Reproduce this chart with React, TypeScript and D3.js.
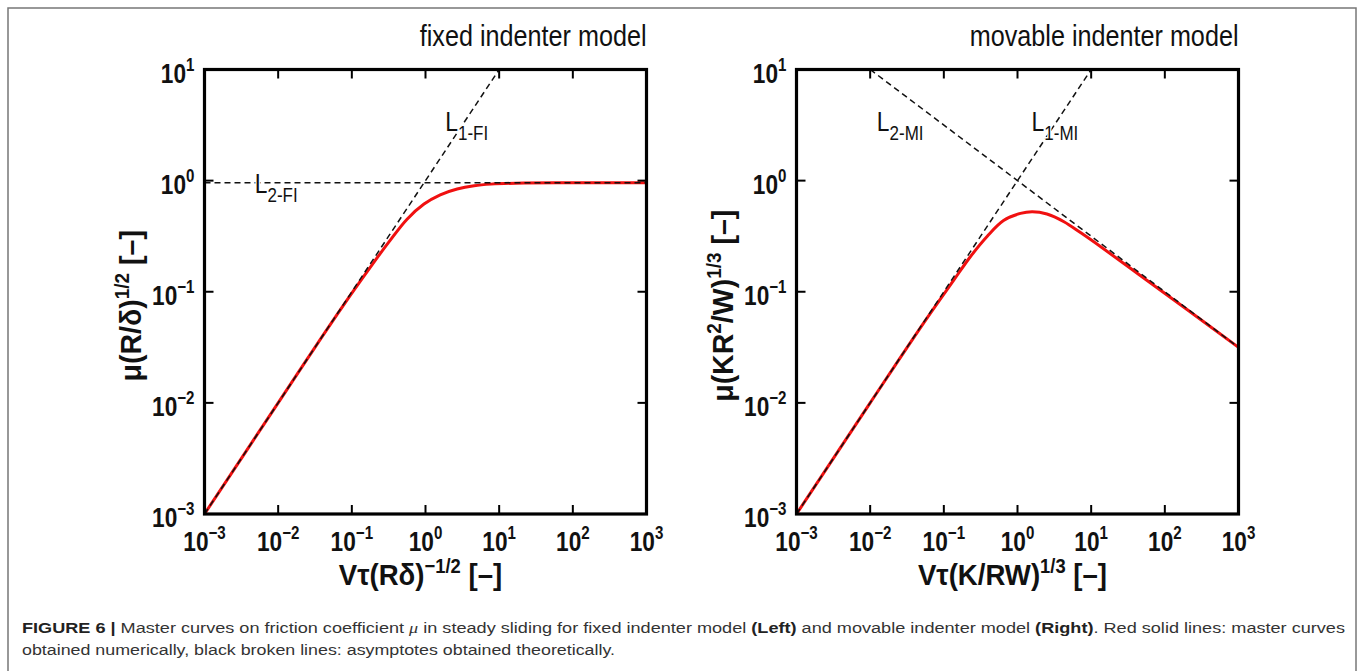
import React from 'react';
import * as d3 from 'd3';

type Pt = [number, number];

// asymptotes and master curves
const fixedRed: Pt[] = [
  [0.001, 0.001], [0.01, 0.01], [0.0316, 0.0316], [0.1, 0.097], [0.2, 0.185],
  [0.331, 0.29], [0.562, 0.45], [0.955, 0.615], [1.585, 0.745], [2.69, 0.84],
  [4.57, 0.9], [7.76, 0.93], [21.9, 0.952], [100, 0.956], [1000, 0.957],
];
const fixedL1: Pt[] = [[0.001, 0.001], [10, 10]];
const fixedL2: Pt[] = [[0.001, 0.957], [1000, 0.957]];

const movableRed: Pt[] = [
  [0.001, 0.001], [0.01, 0.01], [0.056, 0.055], [0.135, 0.126], [0.229, 0.2065],
  [0.389, 0.316], [0.646, 0.437], [1.096, 0.507], [1.585, 0.525], [2.51, 0.501],
  [4.27, 0.427], [7.24, 0.339], [13.5, 0.254], [47.9, 0.138], [200, 0.0692], [1000, 0.0316],
];
const movableL1: Pt[] = [[0.001, 0.001], [10, 10]];
const movableL2: Pt[] = [[0.01, 10], [1000, 0.0316]];

const xTicks = [0.001, 0.01, 0.1, 1, 10, 100, 1000];
const xTickExp = ['−3', '−2', '−1', '0', '1', '2', '3'];
const yTicks = [0.001, 0.01, 0.1, 1, 10];
const yTickExp = ['−3', '−2', '−1', '0', '1'];

const W = 1362;
const H = 671;
const top = 69.5;
const bottom = 514;
const SANS = '"Liberation Sans", Arial, sans-serif';

// narrow text: no condensed face is installed, so squeeze horizontally
const Cond: React.FC<{ x: number; y: number; s: number; rotate?: number; children: React.ReactNode } & React.SVGProps<SVGTextElement>> =
  ({ x, y, s, rotate, children, ...rest }) => (
    <g transform={`translate(${x},${y})${rotate ? ` rotate(${rotate})` : ''} scale(${s},1)`}>
      <text x={0} y={0} fontFamily={SANS} fill="#111" {...rest}>{children}</text>
    </g>
  );

interface Lbl { text: string; sub: string; x: number; y: number }
interface PanelProps {
  left: number;
  title: string;
  red: Pt[];
  dashed: Pt[][];
  labels: Lbl[];
  xTitle: [string, string, string];
  yTitle: React.ReactNode;
}

const Panel: React.FC<PanelProps> = ({ left, title, red, dashed, labels, xTitle, yTitle }) => {
  const right = left + 442;
  const x = d3.scaleLog().domain([0.001, 1000]).range([left, right]);
  const y = d3.scaleLog().domain([0.001, 10]).range([bottom, top]);
  const line = d3.line<Pt>().x(d => x(d[0])).y(d => y(d[1])).curve(d3.curveCatmullRom.alpha(0.5));
  const tl = 9;
  return (
    <g>
      <Cond x={right} y={46} s={0.84} textAnchor="end" fontSize="30">{title}</Cond>

      <path d={line(red) || ''} fill="none" stroke="#f01010" strokeWidth="3" />
      {dashed.map((d, i) => (
        <path key={i} d={line(d) || ''} fill="none" stroke="#111" strokeWidth="1.5" strokeDasharray="6 4" />
      ))}

      {labels.map((l, i) => (
        <Cond key={i} x={x(l.x)} y={y(l.y)} s={0.85} fontSize="27" stroke="#fff" strokeWidth="3" paintOrder="stroke">
          {l.text}<tspan fontSize="20" dy="9">{l.sub}</tspan>
        </Cond>
      ))}

      {xTicks.slice(1, -1).map(t => (
        <g key={'xt' + t}>
          <line x1={x(t)} x2={x(t)} y1={bottom} y2={bottom - tl} stroke="#000" strokeWidth="2" />
          <line x1={x(t)} x2={x(t)} y1={top} y2={top + tl} stroke="#000" strokeWidth="2" />
        </g>
      ))}
      {yTicks.slice(1, -1).map(t => (
        <g key={'yt' + t}>
          <line x1={left} x2={left + tl} y1={y(t)} y2={y(t)} stroke="#000" strokeWidth="2" />
          <line x1={right} x2={right - tl} y1={y(t)} y2={y(t)} stroke="#000" strokeWidth="2" />
        </g>
      ))}
      <rect x={left} y={top} width={right - left} height={bottom - top} fill="none" stroke="#000" strokeWidth="3.2" />

      {xTicks.map((t, i) => (
        <Cond key={'xl' + t} x={x(t)} y={551} s={0.84} textAnchor="middle" fontWeight="bold" fontSize="27">
          10<tspan fontSize="18" dy="-12">{xTickExp[i]}</tspan>
        </Cond>
      ))}
      {yTicks.map((t, i) => (
        <Cond key={'yl' + t} x={left - 10} y={y(t) + 13} s={0.84} textAnchor="end" fontWeight="bold" fontSize="27">
          10<tspan fontSize="18" dy="-12">{yTickExp[i]}</tspan>
        </Cond>
      ))}

      <Cond x={(left + right) / 2 - 5} y={585} s={0.92} textAnchor="middle" fontWeight="bold" fontSize="30">
        {xTitle[0]}<tspan fontSize="20" dy="-12">{xTitle[1]}</tspan><tspan dy="12">{xTitle[2]}</tspan>
      </Cond>
      <Cond x={left - 64} y={(top + bottom) / 2 + 14} s={0.95} rotate={-90} textAnchor="middle" fontWeight="bold" fontSize="30">
        {yTitle}
      </Cond>
    </g>
  );
};

const App: React.FC = () => (
  <div style={{ position: 'fixed', left: 0, top: 0 }}>
    <svg width={W} height={H} style={{ display: 'block', background: '#fff' }}>
      <rect x={8} y={8} width={1348} height={H + 10} fill="none" stroke="#777" strokeWidth="1.5" />
      <Panel
        left={204.5}
        title="fixed indenter model"
        red={fixedRed}
        dashed={[fixedL1, fixedL2]}
        labels={[
          { text: 'L', sub: '1-FI', x: 1.85, y: 2.8 },
          { text: 'L', sub: '2-FI', x: 0.0048, y: 0.77 },
        ]}
        xTitle={['Vτ(Rδ)', '−1/2', ' [–]']}
        yTitle={<>μ(R/δ)<tspan fontSize="20" dy="-12">1/2</tspan><tspan dy="12"> [–]</tspan></>}
      />
      <Panel
        left={796.5}
        title="movable indenter model"
        red={movableRed}
        dashed={[movableL1, movableL2]}
        labels={[
          { text: 'L', sub: '2-MI', x: 0.0123, y: 2.8 },
          { text: 'L', sub: '1-MI', x: 1.55, y: 2.8 },
        ]}
        xTitle={['Vτ(K/RW)', '1/3', ' [–]']}
        yTitle={<>μ(KR<tspan fontSize="20" dy="-12">2</tspan><tspan dy="12">/W)</tspan><tspan fontSize="20" dy="-12">1/3</tspan><tspan dy="12"> [–]</tspan></>}
      />
      <text x={22} y={633} fontFamily={SANS} fontSize="15.5" fill="#333" textLength={1323} lengthAdjust="spacingAndGlyphs">
        <tspan fontWeight="bold" fill="#222">FIGURE 6 | </tspan>Master curves on friction coefficient <tspan fontStyle="italic" fontFamily="serif">μ</tspan> in steady sliding for fixed indenter model <tspan fontWeight="bold" fill="#222">(Left)</tspan> and movable indenter model <tspan fontWeight="bold" fill="#222">(Right)</tspan>. Red solid lines: master curves
      </text>
      <text x={22} y={655} fontFamily={SANS} fontSize="15.5" fill="#333" textLength={593} lengthAdjust="spacingAndGlyphs">
        obtained numerically, black broken lines: asymptotes obtained theoretically.
      </text>
    </svg>
  </div>
);

export default App;
